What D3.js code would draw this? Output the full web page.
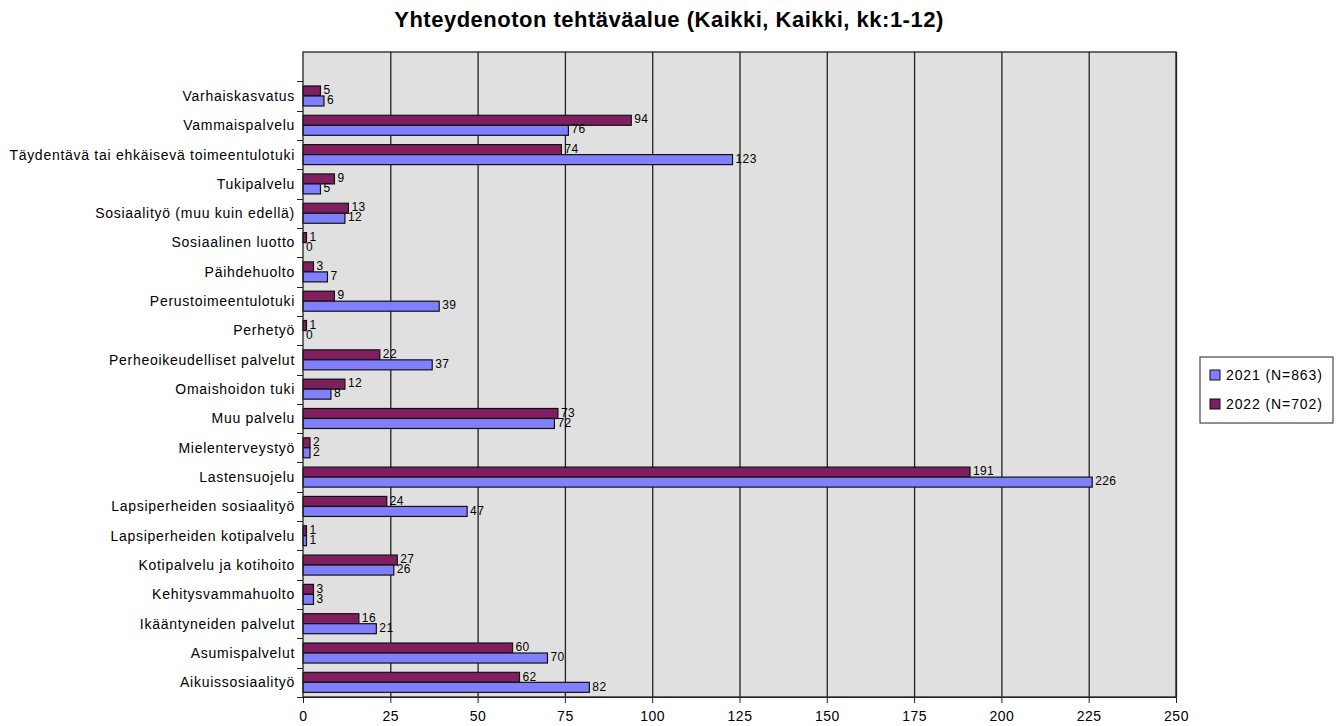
<!DOCTYPE html>
<html>
<head>
<meta charset="utf-8">
<script src="https://cdn.jsdelivr.net/npm/d3@7"></script>
<style>
  body { margin: 0; background: #fff; }
  svg text { font-family: "Liberation Sans", Arial, sans-serif; fill: #000; }
</style>
</head>
<body>
<svg id="chart" width="1341" height="726"></svg>
<script>
// --- data, top to bottom as in the picture ---
const categories = [
    "Varhaiskasvatus",
    "Vammaispalvelu",
    "Täydentävä tai ehkäisevä toimeentulotuki",
    "Tukipalvelu",
    "Sosiaalityö (muu kuin edellä)",
    "Sosiaalinen luotto",
    "Päihdehuolto",
    "Perustoimeentulotuki",
    "Perhetyö",
    "Perheoikeudelliset palvelut",
    "Omaishoidon tuki",
    "Muu palvelu",
    "Mielenterveystyö",
    "Lastensuojelu",
    "Lapsiperheiden sosiaalityö",
    "Lapsiperheiden kotipalvelu",
    "Kotipalvelu ja kotihoito",
    "Kehitysvammahuolto",
    "Ikääntyneiden palvelut",
    "Asumispalvelut",
    "Aikuissosiaalityö"
];
const values2021 = [6, 76, 123, 5, 12, 0, 7, 39, 0, 37, 8, 72, 2, 226, 47, 1, 26, 3, 21, 70, 82];
const values2022 = [5, 94, 74, 9, 13, 1, 3, 9, 1, 22, 12, 73, 2, 191, 24, 1, 27, 3, 16, 60, 62];
const seriesNames = ["2021 (N=863)", "2022 (N=702)"];
const seriesColors = ["#8080ff", "#7f1f5f"];
const xTicks = [0, 25, 50, 75, 100, 125, 150, 175, 200, 225, 250];
const title = "Yhteydenoton tehtäväalue (Kaikki, Kaikki, kk:1-12)";

// --- layout ---
const plot = { left: 303, right: 1176, top: 52, bottom: 697 };
const svg = d3.select("#chart");

const x = d3.scaleLinear().domain([0, 250]).range([plot.left, plot.right]);
// one empty band sits above the first category
const y = d3.scaleBand().domain(["", ...categories]).range([plot.top, plot.bottom]);

svg.append("text")
    .attr("x", 669).attr("y", 27)
    .attr("text-anchor", "middle")
    .style("font-size", "22px").style("font-weight", "bold")
    .style("letter-spacing", "0.5px")
    .text(title);

// plot background
svg.append("rect")
    .attr("x", plot.left).attr("y", plot.top)
    .attr("width", plot.right - plot.left).attr("height", plot.bottom - plot.top)
    .attr("fill", "#e0e0e0");

// vertical gridlines
svg.append("g").selectAll("line")
    .data(xTicks.slice(1))
    .enter().append("line")
    .attr("x1", d => x(d) + 0.5).attr("x2", d => x(d) + 0.5)
    .attr("y1", plot.top).attr("y2", plot.bottom)
    .attr("stroke", "#222").attr("stroke-width", 1.3);

// bars
const rows = categories.map((c, i) => ({ cat: c, v2021: values2021[i], v2022: values2022[i] }));
const barH = 10;
const groups = svg.append("g").selectAll("g")
    .data(rows)
    .enter().append("g")
    .attr("transform", d => `translate(0,${y(d.cat) + y.bandwidth() / 2})`);

[["v2022", 1, -barH], ["v2021", 0, 0]].forEach(([key, ci, dy]) => {
    groups.append("rect")
        .attr("x", x(0))
        .attr("y", dy)
        .attr("width", d => x(d[key]) - x(0))
        .attr("height", barH)
        .attr("fill", seriesColors[ci])
        .attr("stroke", "#111").attr("stroke-width", 1.2);
    groups.append("text")
        .attr("x", d => x(d[key]) + 3)
        .attr("y", dy + barH / 2 - 1)
        .attr("dy", "0.35em")
        .style("font-size", "12px")
        .style("letter-spacing", "0.4px")
        .text(d => d[key]);
});

// frame
svg.append("rect")
    .attr("x", plot.left).attr("y", plot.top)
    .attr("width", plot.right - plot.left).attr("height", plot.bottom - plot.top)
    .attr("fill", "none").attr("stroke", "#222").attr("stroke-width", 1.3);

// bottom axis
const xAxis = svg.append("g")
    .attr("transform", `translate(0,${plot.bottom})`)
    .call(d3.axisBottom(x).tickValues(xTicks).tickSize(6).tickPadding(8));
xAxis.select(".domain").attr("stroke", "#222");
xAxis.selectAll(".tick line").attr("stroke", "#222");
xAxis.selectAll("text").style("font-size", "14px").style("letter-spacing", "0.5px");

// left axis: ticks at band edges, labels at band centres
const edges = ["", ...categories].map(c => y(c)).slice(1).concat([plot.bottom]);
svg.append("g").selectAll("line")
    .data(edges)
    .enter().append("line")
    .attr("x1", plot.left - 6).attr("x2", plot.left)
    .attr("y1", d => Math.round(d) + 0.5).attr("y2", d => Math.round(d) + 0.5)
    .attr("stroke", "#222");
svg.append("g").selectAll("text")
    .data(categories)
    .enter().append("text")
    .attr("x", plot.left - 8)
    .attr("y", d => y(d) + y.bandwidth() / 2)
    .attr("dy", "0.35em")
    .attr("text-anchor", "end")
    .style("font-size", "14px")
    .style("letter-spacing", "0.72px")
    .text(d => d);

// legend
const legend = svg.append("g").attr("transform", "translate(1200,357)");
legend.append("rect")
    .attr("width", 133).attr("height", 66)
    .attr("fill", "#fff").attr("stroke", "#222");
seriesNames.forEach((name, i) => {
    const row = legend.append("g").attr("transform", `translate(10,${18 + i * 29})`);
    row.append("rect")
        .attr("x", 0).attr("y", -5)
        .attr("width", 10).attr("height", 10)
        .attr("fill", seriesColors[i]).attr("stroke", "#111");
    row.append("text")
        .attr("x", 16).attr("dy", "0.35em")
        .style("font-size", "14px")
        .style("letter-spacing", "0.9px")
        .text(name);
});
</script>
</body>
</html>
